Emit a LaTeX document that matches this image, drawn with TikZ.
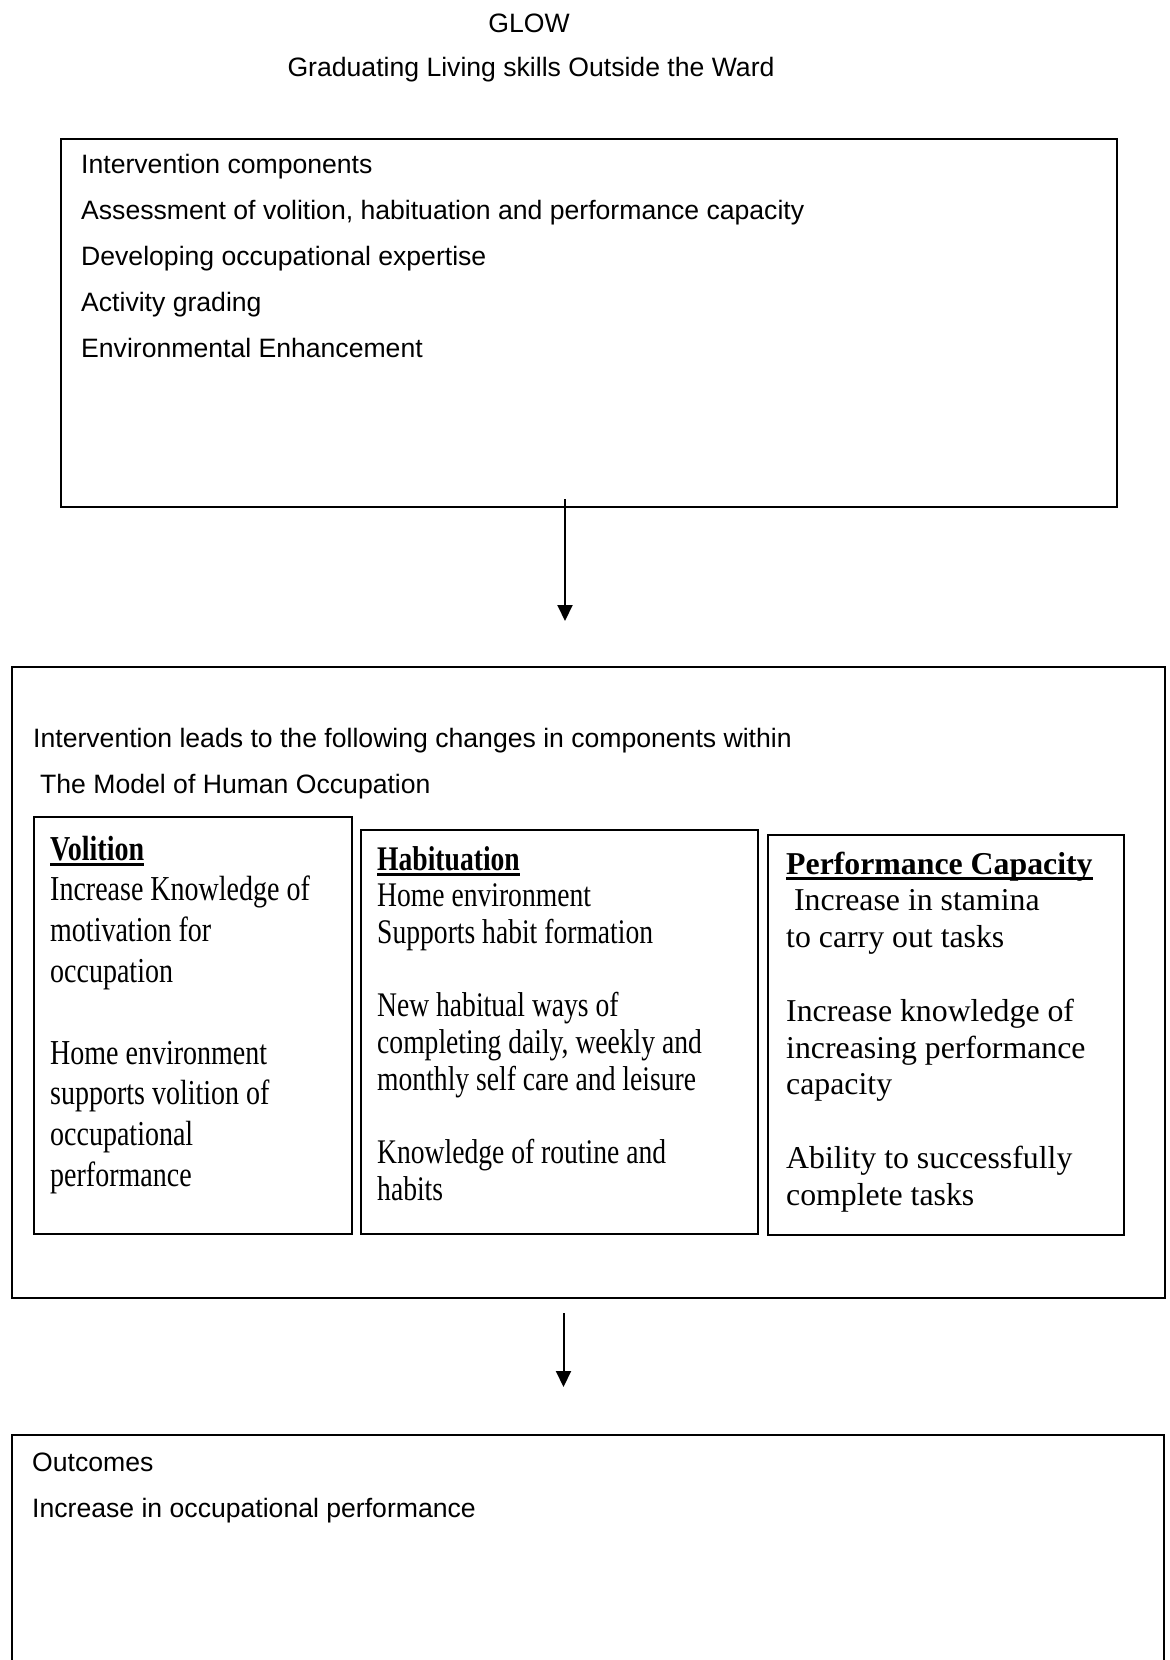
\documentclass[tikz,border=0pt]{standalone}
\usepackage{fontspec}
\setmainfont{Liberation Serif}
\setsansfont{Liberation Sans}
\newfontfamily\tallserif[FakeStretch=0.8]{Liberation Serif}
\usetikzlibrary{positioning,
                arrows.meta}                % arrow tips

% bold heading with a thick underline
\newcommand{\boxtitle}[1]{\setbox0\hbox{\bfseries #1}\rlap{\rule[-6pt]{\wd0}{3.5pt}}\box0}

\tikzset{
  frame/.style={draw, line width=1.6pt, inner sep=0pt, anchor=north west},
  subframe/.style={frame, line width=2.2pt},
  plain/.style={font=\sffamily\fontsize{26.6}{46}\selectfont, inner sep=0pt, anchor=base west},
  headline/.style={plain, anchor=base},
  voltext/.style={font=\tallserif\fontsize{35}{40.8}\selectfont, inner sep=0pt, anchor=base west},
  habtext/.style={font=\tallserif\fontsize{34.5}{36.7}\selectfont, inner sep=0pt, anchor=base west},
  perftext/.style={font=\rmfamily\fontsize{31.8}{36.8}\selectfont, inner sep=0pt, anchor=base west},
  flow/.style={-{Triangle[length=16pt,width=15pt]}, line width=2pt},
}

\begin{document}
\begin{tikzpicture}[x=1pt, y=-1pt]
        \useasboundingbox (0,0) rectangle (1170,1660);
        \clip (0,0) rectangle (1170,1660);

        % title
        \node[headline] (glow) at (529,32) {GLOW};
        \node[headline] (subtitle) at (531,76) {Graduating Living skills Outside the Ward};

        % frames
        \node[frame, minimum width=1056pt, minimum height=368pt] (components) at (60,138) {};
        \node[frame, minimum width=1153pt, minimum height=631pt] (changes) at (11,666) {};
        \node[subframe, minimum width=318pt, minimum height=417pt] (volition) at (32.5,816) {};
        \node[subframe, minimum width=397pt, minimum height=404pt] (habituation) at (360,829) {};
        \node[subframe, minimum width=356pt, minimum height=400pt] (capacity) at (767,834) {};
        \node[frame, minimum width=1152pt, minimum height=300pt] (outcomes) at (11,1434) {};

        % intervention components
        \foreach \txt [count=\i from 0] in {Intervention components,
            {Assessment of volition, habituation and performance capacity},
            Developing occupational expertise, Activity grading,
            Environmental Enhancement}
        { \node[plain] (comp\i) at (81, 173+46*\i) {\txt};
        };

        % changes within the model
        \node[plain] (leads) at (33,747.5) {Intervention leads to the following changes in components within};
        \node[plain] (moho) at (40,793.5) {The Model of Human Occupation};

        \node[voltext] (voltitle) at (50,860) {\boxtitle{Volition}};
        \foreach \k/\txt in {1/Increase Knowledge of, 2/motivation for, 3/occupation,
            5/Home environment, 6/supports volition of, 7/occupational, 8/performance}
        { \node[voltext] (vol\k) at (50, 860+40.8*\k) {\txt};
        };

        \node[habtext] (habtitle) at (377,870) {\boxtitle{Habituation}};
        \foreach \k/\txt in {1/Home environment, 2/Supports habit formation,
            4/New habitual ways of, 5/{completing daily, weekly and},
            6/monthly self care and leisure, 8/Knowledge of routine and, 9/habits}
        { \node[habtext] (hab\k) at (377, 870+36.7*\k) {\txt};
        };

        \node[perftext] (perftitle) at (786,874) {\boxtitle{Performance Capacity}};
        \foreach \k/\txt in {1/\ Increase in stamina, 2/to carry out tasks,
            4/Increase knowledge of, 5/increasing performance, 6/capacity,
            8/Ability to successfully, 9/complete tasks}
        { \node[perftext] (perf\k) at (786, 874+36.8*\k) {\txt};
        };

        % outcomes
        \node[plain] (outhead) at (32,1471) {Outcomes};
        \node[plain] (outline) at (32,1517) {Increase in occupational performance};

        % arrows
        \coordinate (firststart) at (565,499);
        \coordinate (firstend) at (565,621);
        \coordinate (secondstart) at (563.5,1313);
        \coordinate (secondend) at (563.5,1387);
        \draw[flow] (firststart) -- (firstend);
        \draw[flow] (secondstart) -- (secondend);

    \end{tikzpicture}
\end{document}
